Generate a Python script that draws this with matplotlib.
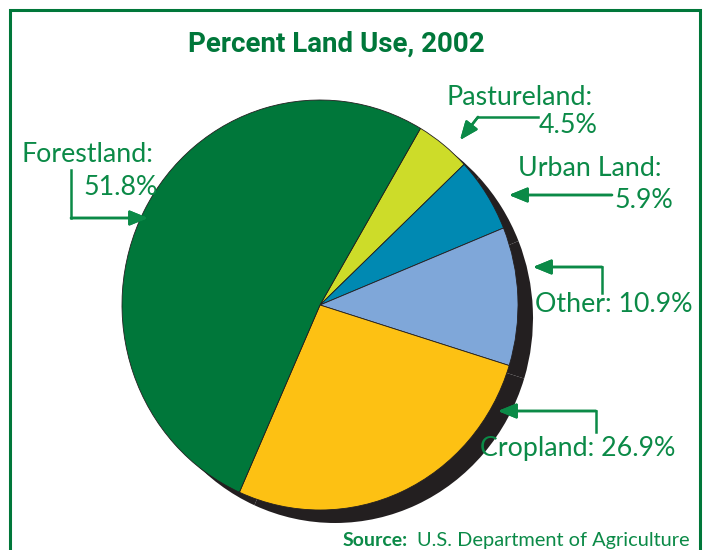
import matplotlib.pyplot as plt
from matplotlib.patches import Rectangle
from matplotlib.lines import Line2D

# data, clockwise from the top boundary of pastureland
categories = ["Pastureland", "Urban Land", "Other", "Cropland", "Forestland"]
percents = [4.5, 5.9, 10.9, 26.9, 51.8]
colors = ["#cddc29", "#0089b2", "#7fa7d9", "#fdc113", "#00773a"]
label_texts = ["Pastureland:\n4.5%", "Urban Land:\n5.9%", "Other: 10.9%",
               "Cropland: 26.9%", "Forestland:\n51.8%"]

W, H = 707, 550
text_green = "#0b8a47"
dark_green = "#00773a"
shadow = "#231f20"


def fx(x):
    return x / W


def fy(y):
    return 1 - y / H


fig = plt.figure(figsize=(W / 100, H / 100), dpi=100)

# green frame
fig.add_artist(Rectangle((fx(10), fy(600)), fx(690), 590 / H, fill=False,
                         edgecolor=dark_green, linewidth=2.2,
                         transform=fig.transFigure))

# pie axes: data +-1 maps to a 198 x 205 px radius around (320, 305)
rx, ry, cx, cy = 198, 205, 320, 305
lim = 1.2
ax = fig.add_axes([fx(cx - rx * lim), fy(cy + ry * lim),
                   fx(2 * rx * lim), 2 * ry * lim / H])

ax.pie(percents, colors=[shadow] * len(percents), startangle=59.5,
       counterclock=False, center=(15 / rx, -13 / ry),
       wedgeprops=dict(linewidth=0))
ax.pie(percents, colors=colors, startangle=59.5, counterclock=False,
       wedgeprops=dict(edgecolor=shadow, linewidth=0.6))
ax.set_xlim(-lim, lim)
ax.set_ylim(-lim, lim)
ax.set_aspect("auto")
ax.axis("off")

fig.text(fx(336), fy(52), "Percent Land Use, 2002", ha="center",
         va="baseline", fontsize=20, fontweight="bold", family="Roboto",
         color=dark_green)

lab = dict(family="Lato", fontsize=19.3, color=text_green, va="baseline")

# forestland
fig.text(fx(22), fy(162), label_texts[4].split("\n")[0], ha="left", **lab)
fig.text(fx(158), fy(195), label_texts[4].split("\n")[1], ha="right", **lab)
# pastureland
fig.text(fx(447), fy(105), label_texts[0].split("\n")[0], ha="left", **lab)
fig.text(fx(598), fy(133), label_texts[0].split("\n")[1], ha="right", **lab)
# urban land
fig.text(fx(518), fy(176), label_texts[1].split("\n")[0], ha="left", **lab)
fig.text(fx(673), fy(208), label_texts[1].split("\n")[1], ha="right", **lab)
# other / cropland
fig.text(fx(535), fy(312), label_texts[2], ha="left", **lab)
fig.text(fx(480), fy(456), label_texts[3], ha="left", **lab)

fig.text(fx(343), fy(546), "Source:", ha="left", va="baseline", fontsize=14,
         fontweight="bold", family="Lato", color=text_green)
fig.text(fx(690), fy(546), "U.S. Department of Agriculture", ha="right",
         va="baseline", fontsize=14.4, family="Lato", color=text_green)


def arrow(points):
    xs = [fx(p[0]) for p in points[:-1]]
    ys = [fy(p[1]) for p in points[:-1]]
    fig.add_artist(Line2D(xs, ys, color=text_green, linewidth=1.8,
                          transform=fig.transFigure))
    fig.add_artist(plt.annotate(
        "", xy=(fx(points[-1][0]), fy(points[-1][1])),
        xytext=(xs[-1], ys[-1]), xycoords="figure fraction",
        textcoords="figure fraction",
        arrowprops=dict(arrowstyle="-|>,head_length=1.1,head_width=0.45",
                        color=text_green, linewidth=1.8,
                        shrinkA=0, shrinkB=0)))


arrow([(71, 170), (71, 218), (148, 218)])
arrow([(538, 117), (478, 117), (460, 140)])
arrow([(612, 195), (509, 195)])
arrow([(602, 293), (602, 267), (533, 267)])
arrow([(596, 432), (596, 411), (498, 411)])

fig.savefig("out.png", dpi=100)
